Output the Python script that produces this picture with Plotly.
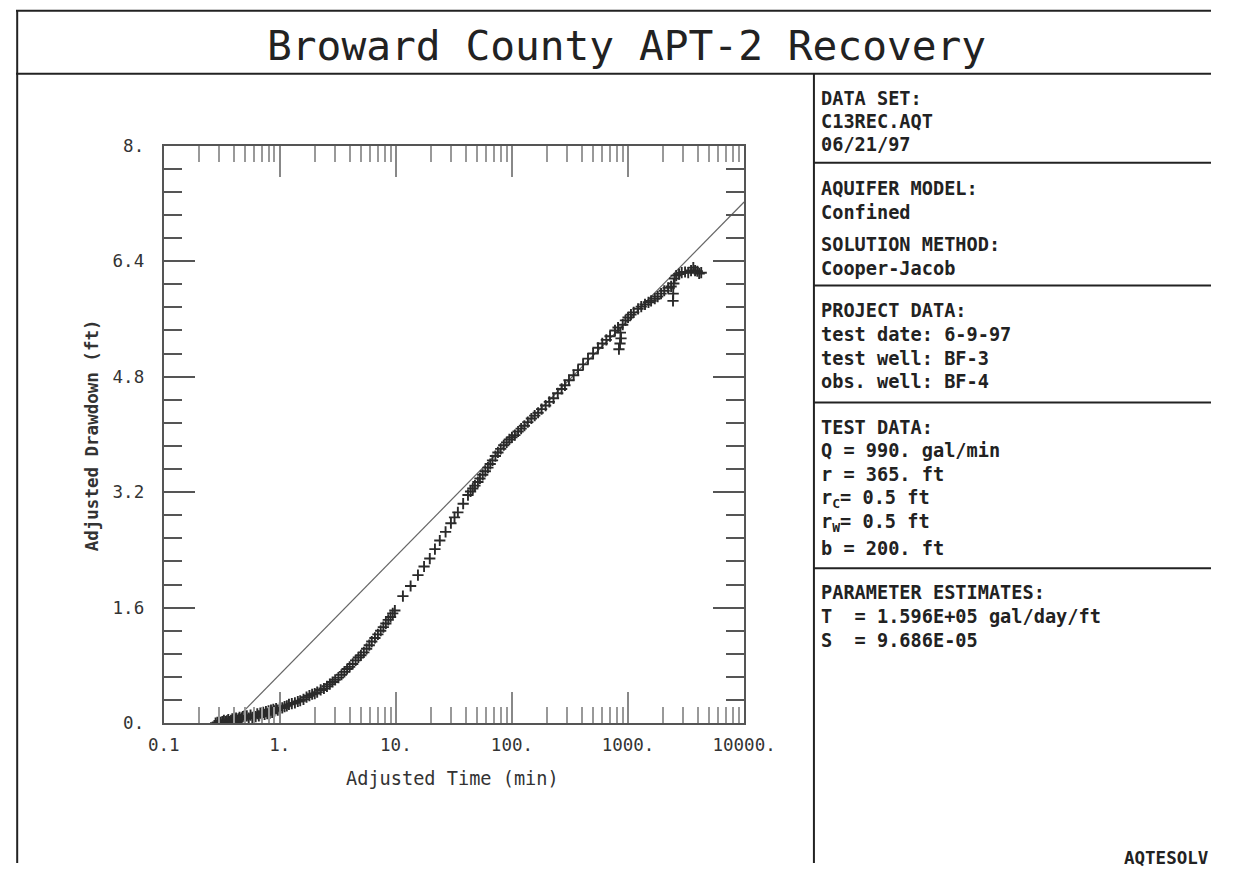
import plotly.graph_objects as go

W, H = 1243, 873

# recovery data: adjusted time (min) and adjusted drawdown (ft)
time_min = [
    0.28, 0.29, 0.30, 0.31, 0.32, 0.33, 0.34, 0.35, 0.36, 0.37, 0.38, 0.39, 0.40, 0.41, 0.42,
    0.43, 0.44, 0.45, 0.46, 0.47, 0.48, 0.50, 0.52, 0.54, 0.56, 0.58, 0.60, 0.62, 0.64, 0.66,
    0.68, 0.70, 0.72, 0.74, 0.76, 0.78, 0.80, 0.82, 0.84, 0.86, 0.88, 0.90, 0.93, 0.96, 1.00,
    1.05, 1.10, 1.15, 1.20, 1.27, 1.35, 1.43, 1.50, 1.60, 1.70, 1.80, 1.90, 2.00, 2.10, 2.25,
    2.40, 2.55, 2.70, 2.85, 3.00, 3.20, 3.40, 3.60, 3.80, 4.00, 4.25, 4.50, 4.75, 5.00, 5.30,
    5.60, 5.90, 6.20, 6.60, 7.00, 7.40, 7.80, 8.20, 8.60, 9.00, 9.40, 9.80,
    11.5, 13.4, 15.5, 17.5, 19.6, 21.7, 23.9, 26.8, 29.8, 32.0, 34.2, 38.0, 41.8, 44.0, 46.0,
    48.0, 50.9, 53.0, 56.0, 59.0, 62.1, 65.0, 68.0, 72.0, 75.7,
    80, 85, 90, 95, 100, 106, 113, 120, 128, 137, 147, 157, 168, 180, 195, 210, 228, 248, 268,
    286, 310, 340, 371, 410, 452, 500, 551, 600, 650, 700, 772, 820, 835, 853, 860, 870, 900,
    950, 1000, 1060, 1120, 1220, 1300, 1400, 1500, 1580, 1700, 1800, 1925, 2050, 2213, 2350,
    2440, 2450, 2480, 2520, 2600, 2750, 2900, 3100, 3300, 3490, 3650, 3780, 3950, 4100, 4270,
]
drawdown_ft = [
    0.00, 0.01, 0.03, 0.01, 0.02, 0.04, 0.02, 0.03, 0.05, 0.02, 0.04, 0.06, 0.03, 0.05, 0.07,
    0.04, 0.06, 0.08, 0.05, 0.07, 0.09, 0.06, 0.10, 0.07, 0.11, 0.08, 0.12, 0.09, 0.13, 0.10,
    0.14, 0.11, 0.15, 0.12, 0.16, 0.13, 0.17, 0.14, 0.18, 0.15, 0.19, 0.17, 0.20, 0.18, 0.21,
    0.21, 0.23, 0.24, 0.26, 0.27, 0.28, 0.30, 0.31, 0.33, 0.36, 0.38, 0.40, 0.41, 0.43, 0.46,
    0.48, 0.51, 0.54, 0.57, 0.60, 0.63, 0.67, 0.71, 0.75, 0.78, 0.82, 0.87, 0.91, 0.94, 0.98,
    1.03, 1.08, 1.13, 1.18, 1.23, 1.28, 1.33, 1.38, 1.43, 1.47, 1.52, 1.56,
    1.76, 1.90, 2.05, 2.17, 2.28, 2.41, 2.53, 2.65, 2.77, 2.85, 2.92, 3.04, 3.16, 3.21, 3.25,
    3.29, 3.34, 3.39, 3.44, 3.49, 3.54, 3.59, 3.64, 3.70, 3.75,
    3.80, 3.85, 3.89, 3.93, 3.96, 3.99, 4.04, 4.08, 4.12, 4.17, 4.22, 4.26, 4.30, 4.35, 4.40,
    4.45, 4.50, 4.57, 4.63, 4.68, 4.75, 4.82, 4.89, 4.97, 5.05, 5.12, 5.20, 5.26, 5.31, 5.36,
    5.44, 5.48, 5.18, 5.26, 5.41, 5.33, 5.52, 5.58, 5.62, 5.66, 5.69, 5.74, 5.77, 5.80, 5.83,
    5.85, 5.88, 5.91, 5.95, 5.99, 6.03, 6.05, 5.85, 5.95, 6.09, 6.16, 6.20, 6.22, 6.24, 6.25,
    6.24, 6.27, 6.31, 6.27, 6.26, 6.23, 6.24,
]

# Cooper-Jacob straight line fit (end points)
fit_time = [0.387, 10000]
fit_drawdown = [0.0, 7.22]

x_ticks = [0.1, 1, 10, 100, 1000, 10000]
x_ticktext = ["0.1", "1.", "10.", "100.", "1000.", "10000."]
y_ticks = [0, 1.6, 3.2, 4.8, 6.4, 8]
y_ticktext = ["0.", "1.6", "3.2", "4.8", "6.4", "8."]

panel_lines = [
    ("DATA SET:", 98), ("C13REC.AQT", 121), ("06/21/97", 144),
    ("AQUIFER MODEL:", 188), ("Confined", 212), ("SOLUTION METHOD:", 244), ("Cooper-Jacob", 268),
    ("PROJECT DATA:", 310), ("test date: 6-9-97", 334), ("test well: BF-3", 358), ("obs. well: BF-4", 381),
    ("TEST DATA:", 427), ("Q = 990. gal/min", 450), ("r = 365. ft", 474),
    ("r<sub>C</sub>= 0.5 ft", 499), ("r<sub>W</sub>= 0.5 ft", 523), ("b = 200. ft", 548),
    ("PARAMETER ESTIMATES:", 592), ("T  = 1.596E+05 gal/day/ft", 616), ("S  = 9.686E-05", 640),
]

MONO = "DejaVu Sans Mono"
INK = "#222"

# the captured picture shows the page slightly shrunk and shifted, so
# layout positions (given in picture pixels) are mapped back to the page here
SX, OX = 0.964, 14.9
SY, OY = 0.978, 9.2
FS = 1 / 0.97


def px(x):
    return min(max((x - OX) / SX / W, 0), 1)


def py(y):
    return min(max(1 - (y - OY) / SY / H, 0), 1)


def f(size):
    return round(size * FS, 1)


fig = go.Figure()

fig.add_trace(go.Scatter(
    x=fit_time, y=fit_drawdown, mode="lines",
    line=dict(color="#666", width=1.2), showlegend=False, hoverinfo="skip"))

fig.add_trace(go.Scatter(
    x=time_min, y=drawdown_ft, mode="markers",
    marker=dict(symbol="cross-thin", size=8, line=dict(color="#2a2a2a", width=1.9)),
    showlegend=False))

fig.update_xaxes(
    type="log", range=[-1, 4], domain=[px(163), px(745)],
    tickvals=x_ticks, ticktext=x_ticktext,
    ticks="inside", ticklen=31, tickwidth=2, tickcolor="#888",
    minor=dict(ticks="inside", ticklen=16, tickwidth=2, tickcolor="#999", dtick="D1", showgrid=False),
    showline=True, linecolor="#555", linewidth=2, mirror="allticks",
    showgrid=False, zeroline=False, ticklabelstandoff=5,
    tickfont=dict(family=MONO, size=f(17), color="#333"),
)
fig.update_yaxes(
    range=[0, 8], domain=[py(723), py(145)],
    tickvals=y_ticks, ticktext=y_ticktext,
    ticks="inside", ticklen=31, tickwidth=1.5, tickcolor="#555",
    minor=dict(ticks="inside", ticklen=18, tickwidth=1.5, tickcolor="#555", dtick=0.32, showgrid=False),
    showline=True, linecolor="#555", linewidth=2, mirror="allticks",
    showgrid=False, zeroline=False, ticklabelstandoff=14,
    tickfont=dict(family=MONO, size=f(17), color="#333"),
)

annotations = [
    dict(text="Broward County APT-2 Recovery", x=px(627), y=py(45),
         font=dict(family=MONO, size=f(40), color=INK)),
    dict(text="Adjusted Time (min)", x=px(453), y=py(778),
         font=dict(family=MONO, size=f(18), color="#333")),
    dict(text="<b>Adjusted Drawdown (ft)</b>", x=px(92), y=py(435), textangle=-90,
         font=dict(family=MONO, size=f(17), color="#333")),
    dict(text="<b>AQTESOLV</b>", x=px(1236), y=py(858), xanchor="right",
         font=dict(family=MONO, size=f(17), color=INK)),
]
for t, y in panel_lines:
    annotations.append(dict(text="<b>" + t + "</b>", x=px(820), y=py(y), xanchor="left",
                            font=dict(family=MONO, size=f(18), color=INK)))
for a in annotations:
    a.setdefault("xanchor", "center")
    a.update(xref="paper", yref="paper", yanchor="middle", showarrow=False)

frame = dict(color="#222", width=2)
shapes = [
    dict(type="line", x0=0.001, x1=0.001, y0=py(8), y1=0, line=frame),
    dict(type="line", x0=0, x1=1, y0=py(10), y1=py(10), line=frame),
    dict(type="line", x0=0, x1=1, y0=py(73), y1=py(73), line=frame),
    dict(type="line", x0=px(815), x1=px(815), y0=py(73), y1=0, line=frame),
]
for y in [162, 285, 402, 568]:
    shapes.append(dict(type="line", x0=px(815), x1=1, y0=py(y), y1=py(y), line=frame))
for s in shapes:
    s.update(xref="paper", yref="paper")

fig.update_layout(
    width=W, height=H, margin=dict(l=0, r=0, t=0, b=0),
    paper_bgcolor="white", plot_bgcolor="white",
    annotations=annotations, shapes=shapes,
)

fig.write_html("out.html", config={"displayModeBar": False},
               post_script="document.body.style.margin='0';document.body.style.overflow='hidden';")
